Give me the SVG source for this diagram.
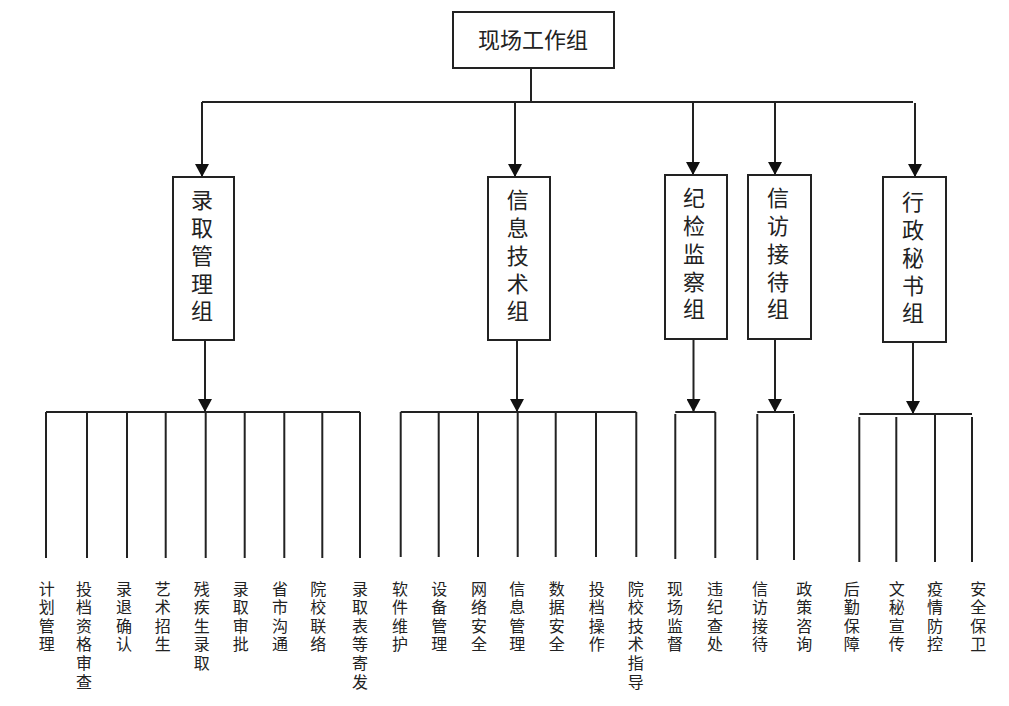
<svg xmlns="http://www.w3.org/2000/svg" width="1009" height="706" viewBox="0 0 1009 706">
<style>
.box{fill:#fff;stroke:#222;stroke-width:2}
.ln{fill:none;stroke:#222;stroke-width:2}
.t1{font-family:"Noto Sans CJK SC","Noto Sans CJK JP",sans-serif;font-size:22px;fill:#222;text-anchor:middle}
.t2{font-family:"Noto Sans CJK SC","Noto Sans CJK JP",sans-serif;font-size:16px;fill:#222;text-anchor:middle}
</style>
<defs>
<marker id="ah" viewBox="0 0 13 14" refX="13" refY="7" markerWidth="13" markerHeight="14" markerUnits="userSpaceOnUse" orient="auto">
<path d="M0,0 L13,7 L0,14 z" fill="#111"/>
</marker>
</defs>
<rect width="1009" height="706" fill="#fff"/>
<g id="connectors">
<path class="ln" d="M531,68 V102 M202,102 H913"/>
<path class="ln" marker-end="url(#ah)" d="M202,102 V177"/>
<path class="ln" marker-end="url(#ah)" d="M515,102 V177"/>
<path class="ln" marker-end="url(#ah)" d="M693,102 V175"/>
<path class="ln" marker-end="url(#ah)" d="M775,102 V175"/>
<path class="ln" marker-end="url(#ah)" d="M915,103 V177"/>
<path class="ln" marker-end="url(#ah)" d="M205,340 V412"/>
<path class="ln" marker-end="url(#ah)" d="M517,340 V412"/>
<path class="ln" marker-end="url(#ah)" d="M693.5,339 V412"/>
<path class="ln" marker-end="url(#ah)" d="M775,339 V412"/>
<path class="ln" marker-end="url(#ah)" d="M913,342 V414"/>
<path class="ln" d="M46,412 H360 M46,412 V558 M87,412 V558 M127,412 V558 M165.7,412 V558 M205.7,412 V558 M244.7,412 V558 M284.3,412 V558 M322.3,412 V558 M360,412 V558"/>
<path class="ln" d="M400.7,412 H636.3 M400.7,412 V557 M438.7,412 V557 M478,412 V557 M517.7,412 V557 M555.7,412 V557 M596,412 V557 M636.3,412 V557"/>
<path class="ln" d="M675.3,412 H715.3 M675.3,414 V559 M715.3,412 V558"/>
<path class="ln" d="M757.3,412 H794 M757.3,414 V560 M794,414 V560"/>
<path class="ln" d="M859.3,414 H972 M859.3,417 V562 M896.3,417 V562 M935,414 V562 M972,417 V562"/>
</g>
<g id="n-top">
<rect class="box" x="453" y="12" width="161" height="56"/>
<text class="t1" x="533" y="48.4">现场工作组</text>
</g>
<g id="n-luqu">
<rect class="box" x="173" y="177" width="61" height="163"/>
<text class="t1"><tspan x="202" y="208.4">录</tspan><tspan x="202" y="236.1">取</tspan><tspan x="202" y="263.8">管</tspan><tspan x="202" y="291.5">理</tspan><tspan x="202" y="319.2">组</tspan></text>
</g>
<g id="n-xinxi">
<rect class="box" x="488" y="177" width="62" height="163"/>
<text class="t1"><tspan x="517.7" y="208.4">信</tspan><tspan x="517.7" y="236.1">息</tspan><tspan x="517.7" y="263.8">技</tspan><tspan x="517.7" y="291.5">术</tspan><tspan x="517.7" y="319.2">组</tspan></text>
</g>
<g id="n-jijian">
<rect class="box" x="665" y="175" width="62" height="164"/>
<text class="t1"><tspan x="694" y="206.4">纪</tspan><tspan x="694" y="234.1">检</tspan><tspan x="694" y="261.8">监</tspan><tspan x="694" y="289.5">察</tspan><tspan x="694" y="317.2">组</tspan></text>
</g>
<g id="n-xinfang">
<rect class="box" x="748" y="175" width="63" height="164"/>
<text class="t1"><tspan x="778" y="206.4">信</tspan><tspan x="778" y="234.1">访</tspan><tspan x="778" y="261.8">接</tspan><tspan x="778" y="289.5">待</tspan><tspan x="778" y="317.2">组</tspan></text>
</g>
<g id="n-xingzheng">
<rect class="box" x="883" y="177" width="63" height="165"/>
<text class="t1"><tspan x="913" y="210.4">行</tspan><tspan x="913" y="238.1">政</tspan><tspan x="913" y="265.8">秘</tspan><tspan x="913" y="293.5">书</tspan><tspan x="913" y="321.2">组</tspan></text>
</g>
<g id="leaves">
<text class="t2"><tspan x="46.7" y="594.5">计</tspan><tspan x="46.7" y="613.1">划</tspan><tspan x="46.7" y="631.7">管</tspan><tspan x="46.7" y="650.3">理</tspan></text>
<text class="t2"><tspan x="84" y="594.5">投</tspan><tspan x="84" y="613.1">档</tspan><tspan x="84" y="631.7">资</tspan><tspan x="84" y="650.3">格</tspan><tspan x="84" y="668.9">审</tspan><tspan x="84" y="687.5">查</tspan></text>
<text class="t2"><tspan x="124" y="594.5">录</tspan><tspan x="124" y="613.1">退</tspan><tspan x="124" y="631.7">确</tspan><tspan x="124" y="650.3">认</tspan></text>
<text class="t2"><tspan x="162.7" y="594.5">艺</tspan><tspan x="162.7" y="613.1">术</tspan><tspan x="162.7" y="631.7">招</tspan><tspan x="162.7" y="650.3">生</tspan></text>
<text class="t2"><tspan x="201.7" y="594.5">残</tspan><tspan x="201.7" y="613.1">疾</tspan><tspan x="201.7" y="631.7">生</tspan><tspan x="201.7" y="650.3">录</tspan><tspan x="201.7" y="668.9">取</tspan></text>
<text class="t2"><tspan x="240.7" y="594.5">录</tspan><tspan x="240.7" y="613.1">取</tspan><tspan x="240.7" y="631.7">审</tspan><tspan x="240.7" y="650.3">批</tspan></text>
<text class="t2"><tspan x="280" y="594.5">省</tspan><tspan x="280" y="613.1">市</tspan><tspan x="280" y="631.7">沟</tspan><tspan x="280" y="650.3">通</tspan></text>
<text class="t2"><tspan x="318.3" y="594.5">院</tspan><tspan x="318.3" y="613.1">校</tspan><tspan x="318.3" y="631.7">联</tspan><tspan x="318.3" y="650.3">络</tspan></text>
<text class="t2"><tspan x="360" y="594.5">录</tspan><tspan x="360" y="613.1">取</tspan><tspan x="360" y="631.7">表</tspan><tspan x="360" y="650.3">等</tspan><tspan x="360" y="668.9">寄</tspan><tspan x="360" y="687.5">发</tspan></text>
<text class="t2"><tspan x="400" y="594.5">软</tspan><tspan x="400" y="613.1">件</tspan><tspan x="400" y="631.7">维</tspan><tspan x="400" y="650.3">护</tspan></text>
<text class="t2"><tspan x="439.3" y="594.5">设</tspan><tspan x="439.3" y="613.1">备</tspan><tspan x="439.3" y="631.7">管</tspan><tspan x="439.3" y="650.3">理</tspan></text>
<text class="t2"><tspan x="479" y="594.5">网</tspan><tspan x="479" y="613.1">络</tspan><tspan x="479" y="631.7">安</tspan><tspan x="479" y="650.3">全</tspan></text>
<text class="t2"><tspan x="517.3" y="594.5">信</tspan><tspan x="517.3" y="613.1">息</tspan><tspan x="517.3" y="631.7">管</tspan><tspan x="517.3" y="650.3">理</tspan></text>
<text class="t2"><tspan x="556.7" y="594.5">数</tspan><tspan x="556.7" y="613.1">据</tspan><tspan x="556.7" y="631.7">安</tspan><tspan x="556.7" y="650.3">全</tspan></text>
<text class="t2"><tspan x="596.7" y="594.5">投</tspan><tspan x="596.7" y="613.1">档</tspan><tspan x="596.7" y="631.7">操</tspan><tspan x="596.7" y="650.3">作</tspan></text>
<text class="t2"><tspan x="635.7" y="594.5">院</tspan><tspan x="635.7" y="613.1">校</tspan><tspan x="635.7" y="631.7">技</tspan><tspan x="635.7" y="650.3">术</tspan><tspan x="635.7" y="668.9">指</tspan><tspan x="635.7" y="687.5">导</tspan></text>
<text class="t2"><tspan x="675" y="594.5">现</tspan><tspan x="675" y="613.1">场</tspan><tspan x="675" y="631.7">监</tspan><tspan x="675" y="650.3">督</tspan></text>
<text class="t2"><tspan x="715" y="594.5">违</tspan><tspan x="715" y="613.1">纪</tspan><tspan x="715" y="631.7">查</tspan><tspan x="715" y="650.3">处</tspan></text>
<text class="t2"><tspan x="760" y="594.5">信</tspan><tspan x="760" y="613.1">访</tspan><tspan x="760" y="631.7">接</tspan><tspan x="760" y="650.3">待</tspan></text>
<text class="t2"><tspan x="804.3" y="594.5">政</tspan><tspan x="804.3" y="613.1">策</tspan><tspan x="804.3" y="631.7">咨</tspan><tspan x="804.3" y="650.3">询</tspan></text>
<text class="t2"><tspan x="851.7" y="594.5">后</tspan><tspan x="851.7" y="613.1">勤</tspan><tspan x="851.7" y="631.7">保</tspan><tspan x="851.7" y="650.3">障</tspan></text>
<text class="t2"><tspan x="896.7" y="594.5">文</tspan><tspan x="896.7" y="613.1">秘</tspan><tspan x="896.7" y="631.7">宣</tspan><tspan x="896.7" y="650.3">传</tspan></text>
<text class="t2"><tspan x="935" y="594.5">疫</tspan><tspan x="935" y="613.1">情</tspan><tspan x="935" y="631.7">防</tspan><tspan x="935" y="650.3">控</tspan></text>
<text class="t2"><tspan x="978.3" y="594.5">安</tspan><tspan x="978.3" y="613.1">全</tspan><tspan x="978.3" y="631.7">保</tspan><tspan x="978.3" y="650.3">卫</tspan></text>
</g>
</svg>
